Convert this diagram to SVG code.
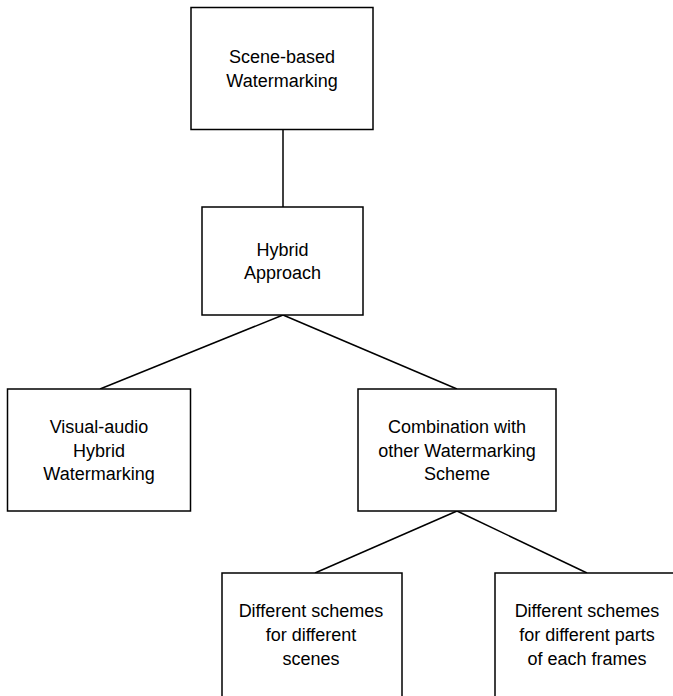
<svg xmlns="http://www.w3.org/2000/svg" width="673" height="696" viewBox="0 0 673 696">
<style>
.box{fill:#fff;stroke:#000;stroke-width:1.5}
.edge{stroke:#000;stroke-width:1.5;fill:none}
text{font-family:"Liberation Sans",Arial,sans-serif;font-size:18px;fill:#000;text-anchor:middle}
</style>
<rect width="673" height="696" fill="#fff"/>
<g id="connectors">
<line class="edge" x1="283" y1="130" x2="283" y2="207"/>
<line class="edge" x1="283" y1="315" x2="100" y2="389"/>
<line class="edge" x1="283" y1="315" x2="457" y2="389"/>
<line class="edge" x1="457" y1="511" x2="315" y2="573"/>
<line class="edge" x1="457" y1="511" x2="587" y2="573"/>
</g>
<g id="n1">
<rect class="box" x="191" y="7.5" width="182" height="122"/>
<text x="282" y="63">Scene-based</text>
<text x="282" y="87">Watermarking</text>
</g>
<g id="n2">
<rect class="box" x="202" y="207" width="161" height="108"/>
<text x="282.5" y="256">Hybrid</text>
<text x="282.5" y="279">Approach</text>
</g>
<g id="n3">
<rect class="box" x="7.5" y="389" width="183" height="122"/>
<text x="99" y="433">Visual-audio</text>
<text x="99" y="457">Hybrid</text>
<text x="99" y="480">Watermarking</text>
</g>
<g id="n4">
<rect class="box" x="358" y="389" width="198" height="122"/>
<text x="457" y="433">Combination with</text>
<text x="457" y="457">other Watermarking</text>
<text x="457" y="480">Scheme</text>
</g>
<g id="n5">
<rect class="box" x="222" y="573" width="180" height="140"/>
<text x="311" y="617">Different schemes</text>
<text x="311" y="641">for different</text>
<text x="311" y="665">scenes</text>
</g>
<g id="n6">
<rect class="box" x="495" y="573" width="184" height="140"/>
<text x="587" y="617">Different schemes</text>
<text x="587" y="641">for different parts</text>
<text x="587" y="665">of each frames</text>
</g>
</svg>
